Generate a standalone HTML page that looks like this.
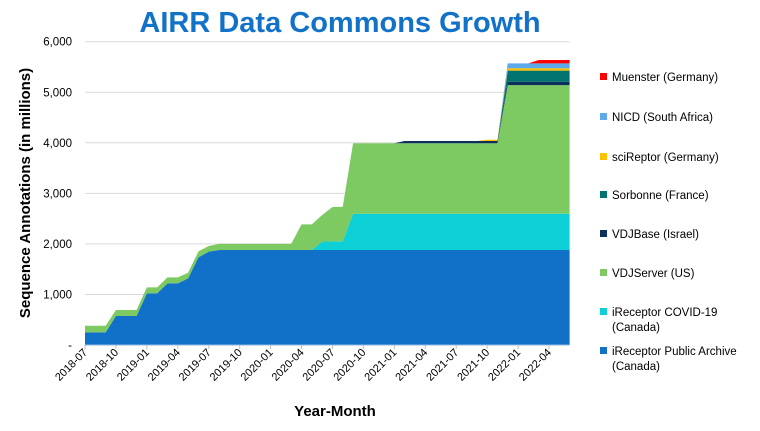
<!DOCTYPE html>
<html><head><meta charset="utf-8"><style>
body{margin:0;background:#fff;}
svg{display:block;font-family:"Liberation Sans",Arial,sans-serif;}
</style></head><body>
<svg id="chart" width="760" height="431" viewBox="0 0 760 431">
<text x="340" y="32" text-anchor="middle" font-size="29" font-weight="bold" fill="#1272C8">AIRR Data Commons Growth</text>
<text transform="translate(30,193) rotate(-90)" text-anchor="middle" font-size="15" font-weight="bold" fill="#000">Sequence Annotations (in millions)</text>
<text x="335" y="416" text-anchor="middle" font-size="15" font-weight="bold" fill="#000">Year-Month</text>
<g id="grid"></g><g id="areas"></g><g id="axes"></g><g id="legend"></g>
</svg>
<script>
const months = [];
for (let y = 2018, m = 7; months.length < 48; m++) { if (m > 12) { m = 1; y++; } months.push(y + '-' + String(m).padStart(2, '0')); }
const publicArchive = [250,250,250,573,573,573,1022,1022,1220,1220,1318,1734,1846,1879,1879,1879,1879,1879,1879,1879,1879,1879,1879,1879,1879,1879,1879,1879,1879,1879,1879,1879,1879,1879,1879,1879,1879,1879,1879,1879,1879,1879,1879,1879,1879,1879,1879,1879];
const covid = [0,0,0,0,0,0,0,0,0,0,0,0,0,0,0,0,0,0,0,0,0,0,0,165,171,171,718,718,718,718,718,718,718,718,718,718,718,718,718,718,718,718,718,718,718,718,718,718];
const vdjserver = [130,130,130,119,119,119,118,118,119,119,112,118,112,121,121,121,121,121,121,121,121,508,508,528,680,685,1393,1393,1393,1393,1393,1393,1393,1393,1393,1393,1393,1393,1393,1393,1393,2543,2543,2543,2543,2543,2543,2543];
const vdjbase = [0,0,0,0,0,0,0,0,0,0,0,0,0,0,0,0,0,0,0,0,0,0,0,0,0,0,0,0,0,0,0,45,45,45,45,45,45,45,45,45,45,68,68,68,68,68,68,68];
const sorbonne = [0,0,0,0,0,0,0,0,0,0,0,0,0,0,0,0,0,0,0,0,0,0,0,0,0,0,0,0,0,0,0,0,0,0,0,0,0,0,0,0,0,219,219,219,219,219,219,219];
const scireptor = [0,0,0,0,0,0,0,0,0,0,0,0,0,0,0,0,0,0,0,0,0,0,0,0,0,0,0,0,0,0,0,0,0,0,0,0,0,0,0,25,25,47,47,47,47,47,47,47];
const nicd = [0,0,0,0,0,0,0,0,0,0,0,0,0,0,0,0,0,0,0,0,0,0,0,0,0,0,0,0,0,0,0,0,0,0,0,0,0,0,0,0,0,98,98,98,98,98,98,98];
const muenster = [0,0,0,0,0,0,0,0,0,0,0,0,0,0,0,0,0,0,0,0,0,0,0,0,0,0,0,0,0,0,0,0,0,0,0,0,0,0,0,0,0,0,0,0,65,65,65,65];
const yTicks = [0,1000,2000,3000,4000,5000,6000];
const yTickLabels = ['-','1,000','2,000','3,000','4,000','5,000','6,000'];
const seriesNames = ['iReceptor Public Archive (Canada)','iReceptor COVID-19 (Canada)','VDJServer (US)','VDJBase (Israel)','Sorbonne (France)','sciReptor (Germany)','NICD (South Africa)','Muenster (Germany)'];

const series = [publicArchive, covid, vdjserver, vdjbase, sorbonne, scireptor, nicd, muenster];
const colors = ['#1170C7','#0DCFD6','#7DCA62','#0C2F5C','#00736F','#FFC000','#5CA9EE','#FF0000'];
const slugs = ['public-archive','covid','vdjserver','vdjbase','sorbonne','scireptor','nicd','muenster'];
const X0 = 85, X1 = 569.6, Y0 = 345, Y1 = 41.7, YMAX = 6000;
const xs = i => X0 + i * (X1 - X0) / (months.length - 1);
const ys = v => Y0 - v / YMAX * (Y0 - Y1);
const NS = 'http://www.w3.org/2000/svg';
const mk = (t, a, p) => { const e = document.createElementNS(NS, t); for (const k in a) e.setAttribute(k, a[k]); p.appendChild(e); return e; };
const grid = document.getElementById('grid'), areas = document.getElementById('areas'), axes = document.getElementById('axes'), legend = document.getElementById('legend');

yTicks.forEach((v, k) => {
  if (v > 0) {
    const g = mk('line', {x1: X0, x2: X1, y1: ys(v), y2: ys(v), stroke: '#d9d9d9', 'stroke-width': 1}, grid);
    
    
  }
  const t = mk('text', {x: 72, y: ys(v) + 4, 'text-anchor': 'end', 'font-size': 11.5, fill: '#000'}, axes);
  t.textContent = yTickLabels[k];
  
  
});

let base = months.map(() => 0);
series.forEach((s, si) => {
  const top = base.map((b, i) => b + s[i]);
  let d = 'M' + months.map((_, i) => xs(i) + ',' + ys(top[i])).join('L');
  for (let i = months.length - 1; i >= 0; i--) d += 'L' + xs(i) + ',' + ys(base[i]);
  const p = mk('path', {d: d + 'Z', fill: colors[si]}, areas);
  
  
  base = top;
});

const ax = mk('line', {x1: X0, x2: X1, y1: Y0, y2: Y0, stroke: '#8fb8e0', 'stroke-width': 1}, axes);


months.forEach((m, i) => {
  if (i % 3 !== 0) return;
  const x = xs(i);
  const tk = mk('line', {x1: x, x2: x, y1: Y0, y2: Y0 + 4, stroke: '#bfbfbf'}, axes);
  
  
  const t = mk('text', {transform: 'translate(' + (x + 3) + ',' + (Y0 + 8) + ') rotate(-45)', 'text-anchor': 'end', 'font-size': 11, fill: '#000'}, axes);
  t.textContent = m;
  
  
});

const legY = [77,117,157,195,234,273,312,351];
for (let k = 0; k < 8; k++) {
  const si = 7 - k;
  const g = mk('g', {}, legend);
  
  
  mk('rect', {x: 600, y: legY[k] - 4, width: 7, height: 7, fill: colors[si]}, g);
  const name = seriesNames[si];
  const m = name.match(/^(.*) (\(Canada\))$/);
  const lines = m ? [m[1], m[2]] : [name];
  lines.forEach((ln, j) => {
    const t = mk('text', {x: 612, y: legY[k] + 4 + j * 15, 'font-size': 11.5, fill: '#000'}, g);
    t.textContent = ln;
  });
}
</script>
</body></html>
